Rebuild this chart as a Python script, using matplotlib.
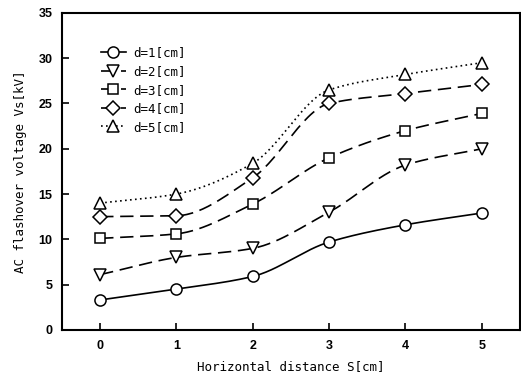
import numpy as np
import matplotlib
matplotlib.use("Agg")
import matplotlib.pyplot as plt

# Data
S = [0, 1, 2, 3, 4, 5]
d1 = [3.3, 4.5, 5.9, 9.7, 11.6, 12.9]
d2 = [6.1, 8.0, 9.0, 13.0, 18.2, 20.0]
d3 = [10.1, 10.6, 13.9, 19.0, 22.0, 23.9]
d4 = [12.5, 12.6, 16.8, 25.0, 26.1, 27.1]
d5 = [14.0, 15.0, 18.4, 26.5, 28.2, 29.5]
labels = ["d=1[cm]", "d=2[cm]", "d=3[cm]", "d=4[cm]", "d=5[cm]"]


def smooth(x, y, n=30):
    # monotone cubic (pchip-like) curve through the measured points
    x = np.asarray(x, float)
    y = np.asarray(y, float)
    h = np.diff(x)
    delta = np.diff(y) / h
    m = np.zeros_like(y)
    m[0] = delta[0]
    m[-1] = delta[-1]
    for i in range(1, len(y) - 1):
        if delta[i - 1] * delta[i] > 0:
            m[i] = 2 / (1 / delta[i - 1] + 1 / delta[i])
    xs, ys = [x[0]], [y[0]]
    for i in range(len(x) - 1):
        t = np.linspace(0, 1, n)[1:]
        h00 = 2 * t**3 - 3 * t**2 + 1
        h10 = t**3 - 2 * t**2 + t
        h01 = -2 * t**3 + 3 * t**2
        h11 = t**3 - t**2
        xs.extend(x[i] + t * h[i])
        ys.extend(h00 * y[i] + h10 * h[i] * m[i] + h01 * y[i + 1] + h11 * h[i] * m[i + 1])
    return np.array(xs), np.array(ys)


fig = plt.figure(figsize=(5.21, 3.80), dpi=100)
ax = fig.add_axes([0.119, 0.132, 0.879, 0.834])

series = [d1, d2, d3, d4, d5]
markers = ["o", "v", "s", "D", "^"]
dashes = [None, [8, 4], [8, 4], [8, 4], [1, 2]]
sizes = [8, 8, 7.5, 7, 8]

for vals, mk, ds, ms, lab in zip(series, markers, dashes, sizes, labels):
    xs, ys = smooth(S, vals)
    line, = ax.plot(xs, ys, color="black", linewidth=1.2)
    handle, = ax.plot([], [], color="black", linewidth=1.2, marker=mk,
                      markersize=ms, markerfacecolor="white", markeredgecolor="black",
                      markeredgewidth=1.1, label=lab)
    if ds is not None:
        line.set_dashes(ds)
        handle.set_dashes(ds)
    ax.plot(S, vals, linestyle="none", marker=mk, markersize=ms,
            markerfacecolor="white", markeredgecolor="black", markeredgewidth=1.1)

ax.set_xlim(-0.5, 5.5)
ax.set_ylim(0, 35)
ax.set_xticks(S)
ax.set_yticks(range(0, 36, 5))

for sp in ax.spines.values():
    sp.set_linewidth(1.5)

ax.tick_params(direction="in", length=5, width=1.2, labelsize=9, pad=7)
for t in ax.get_xticklabels() + ax.get_yticklabels():
    t.set_fontfamily("Liberation Sans")
    t.set_fontweight("bold")

ax.set_xlabel("Horizontal distance S[cm]", fontsize=9, family="DejaVu Sans Mono", labelpad=6)
ax.set_ylabel("AC flashover voltage Vs[kV]", fontsize=9, family="DejaVu Sans Mono", labelpad=8)

leg = ax.legend(loc="upper left", bbox_to_anchor=(0.06, 0.93), frameon=False,
                handlelength=2.0, handletextpad=0.6, labelspacing=0.45,
                prop={"family": "DejaVu Sans Mono", "size": 9})

fig.savefig("out.png", dpi=100)
